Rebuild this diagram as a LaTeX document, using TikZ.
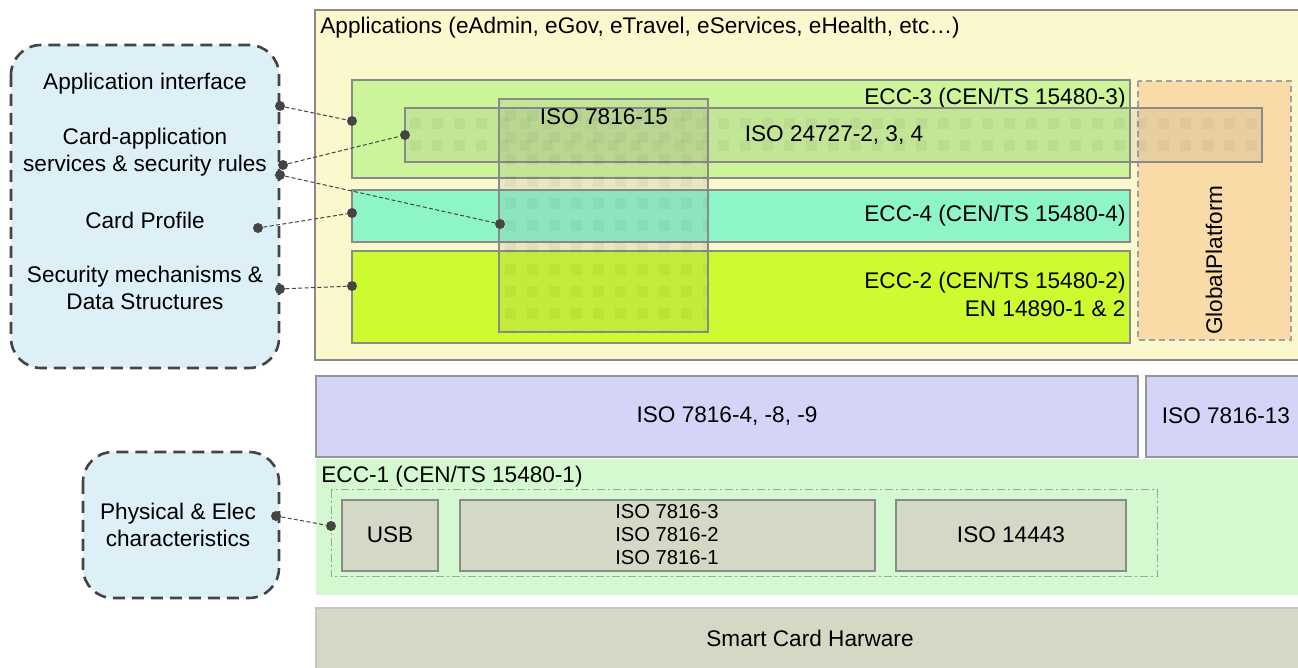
\documentclass[tikz,border=0pt]{standalone}
\usepackage{fontspec}
\setmainfont{Liberation Sans}
\usetikzlibrary{calc}
\definecolor{appyel}{HTML}{FAF8CC}
\definecolor{eccthree}{HTML}{CCF59A}
\definecolor{eccfour}{HTML}{8EF5C6}
\definecolor{ecctwo}{HTML}{CCFB30}
\definecolor{gporange}{HTML}{F8DBA6}
\definecolor{lav}{HTML}{D4D4F8}
\definecolor{eccone}{HTML}{D4F8D0}
\definecolor{hwgray}{HTML}{D3D9C4}
\definecolor{bluebox}{HTML}{DDF0F8}
\definecolor{edge}{HTML}{8A8A8A}
\definecolor{dark}{HTML}{444444}
\tikzset{
  layer/.style={draw=edge, line width=0.6pt},
  legend/.style={draw=dark, fill=bluebox, line width=1.3pt, dash pattern=on 6pt off 3.5pt, rounded corners=15pt},
  lbl/.style={inner sep=0pt, font=\fontsize{11.3}{13.5}\selectfont},
  small/.style={inner sep=0pt, font=\fontsize{10.1}{11.5}\selectfont, align=center},
  link/.style={draw=dark, line width=0.5pt, dash pattern=on 2pt off 1.2pt},
  dot/.style={circle, fill=dark, inner sep=0pt, minimum size=5pt},
  overlay/.style={draw=edge, line width=0.6pt, fill=gray, fill opacity=0.13},
  checker/.style={fill=black, fill opacity=0.035},
}
\begin{document}
\begin{tikzpicture}[x=0.5pt,y=-0.5pt]
\useasboundingbox (0,0) rectangle (1298,668);
% Applications
\path[layer, fill=appyel] (315,10) rectangle (1306,360);
\node[lbl, anchor=west] (apps) at (320,28) {Applications (eAdmin, eGov, eTravel, eServices, eHealth, etc\dots)};
% ECC-3, ECC-4, ECC-2
\path[layer, fill=eccthree] (352,80) rectangle (1130,178);
\node[lbl, anchor=east] (ecc3) at (1126,99) {ECC-3 (CEN/TS 15480-3)};
\path[layer, fill=eccfour] (352,190) rectangle (1130,242);
\node[lbl, anchor=east] (ecc4) at (1126,216) {ECC-4 (CEN/TS 15480-4)};
\path[layer, fill=ecctwo] (352,251) rectangle (1130,343);
\node[lbl, anchor=east] (ecc2) at (1126,283) {ECC-2 (CEN/TS 15480-2)};
\node[lbl, anchor=east] (en) at (1126,309) {EN 14890-1 \& 2};
% GlobalPlatform
\path[draw=edge!80, fill=gporange, line width=0.6pt, dash pattern=on 3pt off 2pt] (1138,81) rectangle (1291,340);
\node[lbl, rotate=90] (gp) at (1214,260) {GlobalPlatform};
% ISO 24727 overlay
\path[overlay] (405,108) rectangle (1262,162);
\begin{scope}
  \clip (405,108) rectangle (1262,162);
  \foreach \xx in {410,432,...,1262} {
    \foreach \yy in {118,140} {
      \path[checker] (\xx,\yy) rectangle ++(11,11);
    }
  }
\end{scope}
\node[lbl] (iso24727) at (834,135) {ISO 24727-2, 3, 4};
% ISO 7816-15 overlay
\path[overlay] (499,99) rectangle (708,332);
\begin{scope}
  \clip (499,99) rectangle (708,332);
  \foreach \xx in {505,527,...,708} {
    \foreach \yy in {110,132,...,332} {
      \path[checker] (\xx,\yy) rectangle ++(11,11);
    }
  }
\end{scope}
\node[lbl] (iso15) at (604,117) {ISO 7816-15};
% Legend box 1
\path[legend] (11,45) rectangle (279,368);
\node[lbl] (ai) at (145,84) {Application interface};
\node[lbl, align=center] (cas) at (145,152) {Card-application\\services \& security rules};
\node[lbl] (cp) at (145,220) {Card Profile};
\node[lbl, align=center] (smd) at (145,288) {Security mechanisms \&\\Data Structures};
% Lower layers
\path[draw=edge!90, line width=1pt, fill=lav] (316,376) rectangle (1138,457);
\node[lbl] (iso4) at (727,416) {ISO 7816-4, -8, -9};
\path[draw=edge!90, line width=1pt, fill=lav] (1146,376) rectangle (1306,457);
\node[lbl] (iso13) at (1226,416) {ISO 7816-13};
\path[fill=eccone] (316,459) rectangle (1306,595);
\node[lbl, anchor=west] (ecc1) at (321,477) {ECC-1 (CEN/TS 15480-1)};
\path[draw=edge!80, line width=0.5pt, dash pattern=on 4pt off 1.5pt on 1pt off 1.5pt] (331,490) rectangle (1157,577);
\path[layer, fill=hwgray] (342,500) rectangle (438,571);
\node[lbl] (usb) at (390,535) {USB};
\path[layer, fill=hwgray] (460,500) rectangle (875,571);
\node[small] (iso321) at (667,535) {ISO 7816-3\\ISO 7816-2\\ISO 7816-1};
\path[layer, fill=hwgray] (896,500) rectangle (1126,571);
\node[lbl] (iso14443) at (1011,535) {ISO 14443};
\path[draw=edge!50, line width=0.6pt, fill=hwgray] (316,608) rectangle (1306,680);
\node[lbl] (hw) at (810,638) {Smart Card Harware};
% Legend box 2
\path[legend] (83,452) rectangle (279,598);
\node[lbl, align=center] (pe) at (178,525) {Physical \& Elec\\characteristics};
% connector endpoints
\node[dot] (a1) at (280,106) {};
\node[dot] (b1) at (352,121) {};
\node[dot] (a2) at (283,165) {};
\node[dot] (b2) at (405,135) {};
\node[dot] (a3) at (280,175) {};
\node[dot] (b3) at (500,224) {};
\node[dot] (a4) at (258,228) {};
\node[dot] (b4) at (352,213) {};
\node[dot] (a5) at (280,289) {};
\node[dot] (b5) at (352,286) {};
\node[dot] (a6) at (276,516) {};
\node[dot] (b6) at (331,526) {};
\draw[link] (a1) -- (b1);
\draw[link] (a2) -- (b2);
\draw[link] (a3) -- (b3);
\draw[link] (a4) -- (b4);
\draw[link] (a5) -- (b5);
\draw[link] (a6) -- (b6);
\end{tikzpicture}
\end{document}
